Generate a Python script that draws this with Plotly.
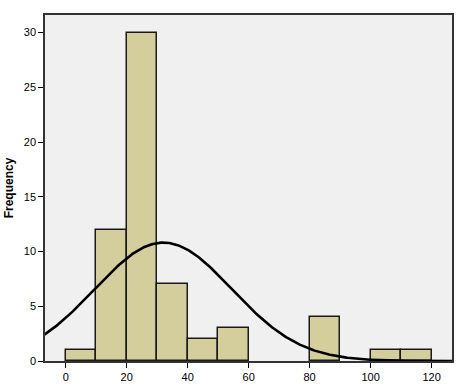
import numpy as np
import plotly.graph_objects as go

bin_starts = [0, 10, 20, 30, 40, 50, 80, 100, 110]
counts = [1, 12, 30, 7, 2, 3, 4, 1, 1]
bin_width = 10
curve_mean = 32.0
curve_sd = 22.5
n_total = sum(counts)
x_ticks = [0, 20, 40, 60, 80, 100, 120]
y_ticks = [0, 5, 10, 15, 20, 25, 30]

centers = [s + bin_width / 2 for s in bin_starts]
xs = np.linspace(-7, 127, 400)
ys = n_total * bin_width / (curve_sd * np.sqrt(2 * np.pi)) * np.exp(-(xs - curve_mean) ** 2 / (2 * curve_sd ** 2))

fig = go.Figure()
fig.add_trace(go.Bar(x=centers, y=counts, width=bin_width,
                     marker=dict(color="#D3CE9B", line=dict(color="#1a1a1a", width=1.5)),
                     hoverinfo="skip"))
fig.add_trace(go.Scatter(x=xs, y=ys, mode="lines", line=dict(color="black", width=2.6),
                         hoverinfo="skip"))

fig.update_layout(
    width=460, height=388,
    margin=dict(l=45, r=8, t=15, b=27),
    paper_bgcolor="white", plot_bgcolor="#F0F0F0",
    showlegend=False, bargap=0,
    font=dict(family="Liberation Sans, Arial, sans-serif", size=11, color="black"),
)
fig.update_xaxes(range=[-6.8, 126.7], tickvals=x_ticks, ticks="outside", ticklen=5,
                 tickcolor="black", showgrid=False, zeroline=False, automargin=False,
                 showline=True, linecolor="#333333", linewidth=1.5, mirror=True,
                 tickfont=dict(size=11))
fig.update_yaxes(range=[0, 31.6], tickvals=y_ticks, ticks="outside", ticklen=5,
                 tickcolor="black", showgrid=False, zeroline=False, automargin=False,
                 showline=True, linecolor="#333333", linewidth=1.5, mirror=True,
                 tickfont=dict(size=11),
                 title=dict(text="<b>Frequency</b>", font=dict(size=12), standoff=8))

fig.write_html("out.html")
